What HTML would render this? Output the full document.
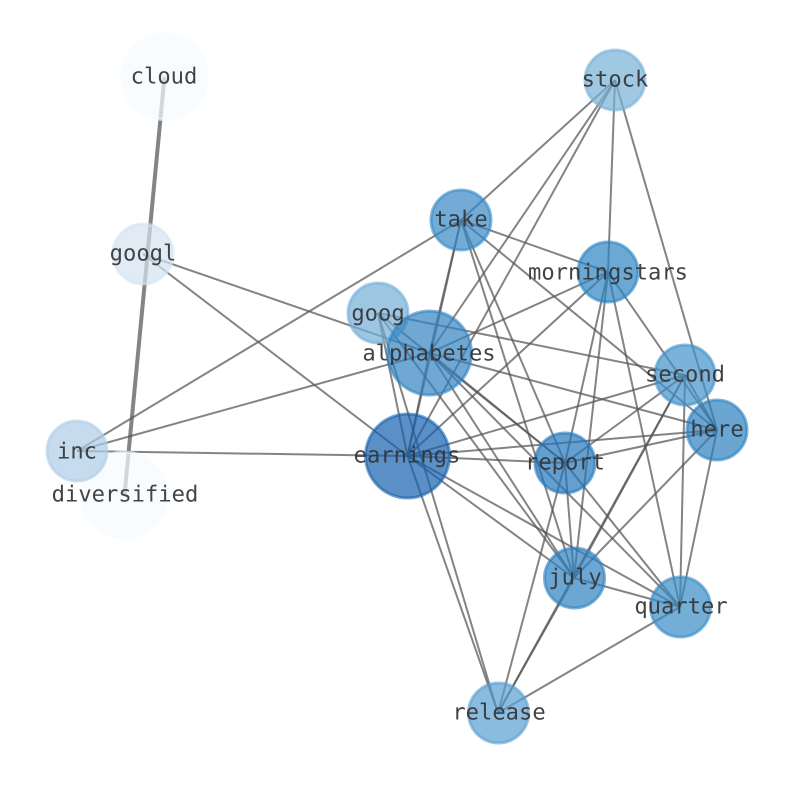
<!DOCTYPE html>
<html><head><meta charset="utf-8"><style>
html,body{margin:0;padding:0;background:#fff}
svg{display:block}
text{font-family:"DejaVu Sans Mono","Liberation Mono",monospace;font-size:22.15px;fill:#333;fill-opacity:.92;text-anchor:middle;dominant-baseline:central;text-rendering:geometricPrecision}
.e line{stroke:#555;stroke-opacity:.72;stroke-width:2}
circle{fill-opacity:.7;stroke-opacity:.6;stroke-width:3}
</style></head><body>
<svg width="794" height="790" viewBox="0 0 794 790" xmlns="http://www.w3.org/2000/svg">
<g class="e">
<line x1="164.5" y1="76.5" x2="124.5" y2="495" style="stroke-width:4"/>
<line x1="615" y1="80" x2="461" y2="220"/>
<line x1="615" y1="80" x2="429.5" y2="353"/>
<line x1="615" y1="80" x2="407.5" y2="456"/>
<line x1="615" y1="80" x2="608" y2="272"/>
<line x1="615" y1="80" x2="717" y2="430"/>
<line x1="461" y1="220" x2="77" y2="451"/>
<line x1="461" y1="220" x2="608" y2="272"/>
<line x1="461" y1="220" x2="717" y2="430"/>
<line x1="461" y1="220" x2="565" y2="463"/>
<line x1="461" y1="220" x2="574" y2="578"/>
<line x1="461" y1="220" x2="407.5" y2="456"/>
<line x1="461" y1="220" x2="429.5" y2="353"/>
<line x1="608" y1="272" x2="429.5" y2="353"/>
<line x1="608" y1="272" x2="407.5" y2="456"/>
<line x1="608" y1="272" x2="565" y2="463"/>
<line x1="608" y1="272" x2="574" y2="578"/>
<line x1="608" y1="272" x2="680" y2="607"/>
<line x1="608" y1="272" x2="717" y2="430"/>
<line x1="143" y1="254" x2="429.5" y2="353"/>
<line x1="143" y1="254" x2="407.5" y2="456"/>
<line x1="378" y1="313" x2="685" y2="375"/>
<line x1="378" y1="313" x2="565" y2="463"/>
<line x1="378" y1="313" x2="574" y2="578"/>
<line x1="378" y1="313" x2="407.5" y2="456"/>
<line x1="378" y1="313" x2="498" y2="713"/>
<line x1="429.5" y1="353" x2="77" y2="451"/>
<line x1="429.5" y1="353" x2="717" y2="430"/>
<line x1="429.5" y1="353" x2="574" y2="578"/>
<line x1="429.5" y1="353" x2="680" y2="607"/>
<line x1="429.5" y1="353" x2="407.5" y2="456"/>
<line x1="429.5" y1="353" x2="565" y2="463"/>
<line x1="77" y1="451" x2="407.5" y2="456"/>
<line x1="407.5" y1="456" x2="565" y2="463"/>
<line x1="407.5" y1="456" x2="685" y2="375"/>
<line x1="407.5" y1="456" x2="717" y2="430"/>
<line x1="407.5" y1="456" x2="574" y2="578"/>
<line x1="407.5" y1="456" x2="680" y2="607"/>
<line x1="407.5" y1="456" x2="498" y2="713"/>
<line x1="565" y1="463" x2="685" y2="375"/>
<line x1="565" y1="463" x2="717" y2="430"/>
<line x1="565" y1="463" x2="574" y2="578"/>
<line x1="565" y1="463" x2="680" y2="607"/>
<line x1="565" y1="463" x2="498" y2="713"/>
<line x1="685" y1="375" x2="717" y2="430"/>
<line x1="685" y1="375" x2="680" y2="607"/>
<line x1="685" y1="375" x2="574" y2="578"/>
<line x1="685" y1="375" x2="498" y2="713"/>
<line x1="717" y1="430" x2="574" y2="578"/>
<line x1="717" y1="430" x2="680" y2="607"/>
<line x1="574" y1="578" x2="680" y2="607"/>
<line x1="574" y1="578" x2="498" y2="713"/>
<line x1="680" y1="607" x2="498" y2="713"/>
</g>
<circle cx="164.5" cy="76.5" r="43" fill="#f7fbff" stroke="#f7fbff"/>
<circle cx="124.5" cy="495" r="43" fill="#f7fbff" stroke="#f7fbff"/>
<circle cx="143" cy="254" r="30" fill="#d3e2f2" stroke="#d3e2f2"/>
<circle cx="77" cy="451" r="30" fill="#aecde7" stroke="#aecde7"/>
<circle cx="615" cy="80" r="30" fill="#76b0d7" stroke="#76b0d7"/>
<circle cx="378" cy="313" r="30" fill="#73aed7" stroke="#73aed7"/>
<circle cx="498.5" cy="713" r="30" fill="#589fd1" stroke="#589fd1"/>
<circle cx="685" cy="375" r="30" fill="#4191c9" stroke="#4191c9"/>
<circle cx="461" cy="220" r="30" fill="#3689c5" stroke="#3689c5"/>
<circle cx="608" cy="272" r="30" fill="#2c83c2" stroke="#2c83c2"/>
<circle cx="429.5" cy="353" r="42" fill="#3083c0" stroke="#3083c0"/>
<circle cx="717" cy="430" r="30" fill="#2c80c0" stroke="#2c80c0"/>
<circle cx="565" cy="463" r="30" fill="#2376bc" stroke="#2376bc"/>
<circle cx="574.5" cy="578" r="30" fill="#2d81c0" stroke="#2d81c0"/>
<circle cx="680.5" cy="607" r="30" fill="#378bc6" stroke="#378bc6"/>
<circle cx="407.5" cy="456" r="42" fill="#1561ae" stroke="#1561ae"/>
<text x="164" y="76.5">cloud</text>
<text x="615" y="79.5">stock</text>
<text x="461" y="219.5">take</text>
<text x="608" y="272.5">morningstars</text>
<text x="143" y="253.5">googl</text>
<text x="378" y="313.5">goog</text>
<text x="429" y="353.5">alphabetes</text>
<text x="685" y="374.5">second</text>
<text x="717" y="429.5">here</text>
<text x="77" y="451.5">inc</text>
<text x="407" y="455.5">earnings</text>
<text x="565" y="462.5">report</text>
<text x="125" y="494.5">diversified</text>
<text x="575" y="577.5">july</text>
<text x="681" y="606.5">quarter</text>
<text x="499" y="712.5">release</text>
</svg>
</body></html>
